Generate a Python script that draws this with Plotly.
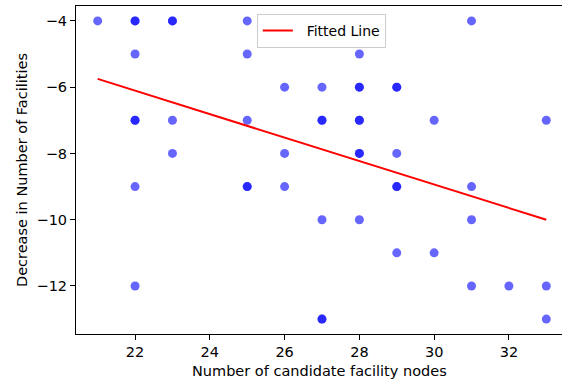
import plotly.graph_objects as go

# Data (duplicates appear as darker points)
nodes = [21, 22, 22, 23, 23, 25, 31,
         22, 25, 28,
         26, 27, 28, 28, 29, 29,
         22, 22, 23, 25, 27, 27, 28, 28, 30, 33,
         23, 26, 28, 28, 29,
         22, 25, 25, 26, 29, 29, 31,
         27, 28, 31,
         29, 30,
         22, 31, 32, 33,
         27, 27, 33]
decrease = [-4, -4, -4, -4, -4, -4, -4,
            -5, -5, -5,
            -6, -6, -6, -6, -6, -6,
            -7, -7, -7, -7, -7, -7, -7, -7, -7, -7,
            -8, -8, -8, -8, -8,
            -9, -9, -9, -9, -9, -9, -9,
            -10, -10, -10,
            -11, -11,
            -12, -12, -12, -12,
            -13, -13, -13]

fit_x = [21, 33]
fit_y = [-5.75, -10.0]

x_ticks = [22, 24, 26, 28, 30, 32]
y_ticks = [-4, -6, -8, -10, -12]

FONT = "DejaVu Sans"
FS = 14.5

fig = go.Figure()
for xv, yv in zip(nodes, decrease):
    fig.add_trace(go.Scatter(
        x=[xv], y=[yv], mode="markers",
        marker=dict(color="blue", size=9, opacity=0.6, line=dict(width=0)),
        showlegend=False, hoverinfo="skip"))

fig.add_trace(go.Scatter(
    x=fit_x, y=fit_y, mode="lines", name="\u00a0\u00a0Fitted Line",
    line=dict(color="red", width=2)))

fig.update_layout(
    width=562, height=381,
    margin=dict(l=76, r=0, t=6, b=47),
    plot_bgcolor="white", paper_bgcolor="white",
    font=dict(family=FONT, size=FS, color="black"),
    legend=dict(x=0.372, y=0.976, xanchor="left", yanchor="top",
                bgcolor="white", bordercolor="#cccccc", borderwidth=1,
                font=dict(family=FONT, size=14)),
    xaxis=dict(range=[20.42, 33.42], tickvals=x_ticks, ticks="outside",
               ticklen=5, tickcolor="black", showline=True, linecolor="black",
               linewidth=1, mirror=True, showgrid=False, zeroline=False,
               automargin=False, tickfont=dict(size=FS)),
    yaxis=dict(range=[-13.45, -3.55], tickvals=y_ticks,
               ticktext=["\u22124", "\u22126", "\u22128", "\u221210", "\u221212"],
               ticks="outside", ticklen=5, tickcolor="black", showline=True,
               linecolor="black", linewidth=1, showgrid=False, zeroline=False,
               automargin=False, tickfont=dict(size=FS)),
    annotations=[
        dict(text="Number of candidate facility nodes", xref="paper", yref="paper",
             x=0.5, y=0, xanchor="center", yanchor="middle", yshift=-37,
             showarrow=False, font=dict(family=FONT, size=FS)),
        dict(text="Decrease in Number of Facilities", xref="paper", yref="paper",
             x=0, y=0.5, xanchor="center", yanchor="middle", xshift=-54,
             textangle=-90, showarrow=False, font=dict(family=FONT, size=FS)),
    ],
)

fig.write_html("out.html", config={"displayModeBar": False},
               post_script="document.body.style.margin='0';document.body.style.overflow='hidden';")
